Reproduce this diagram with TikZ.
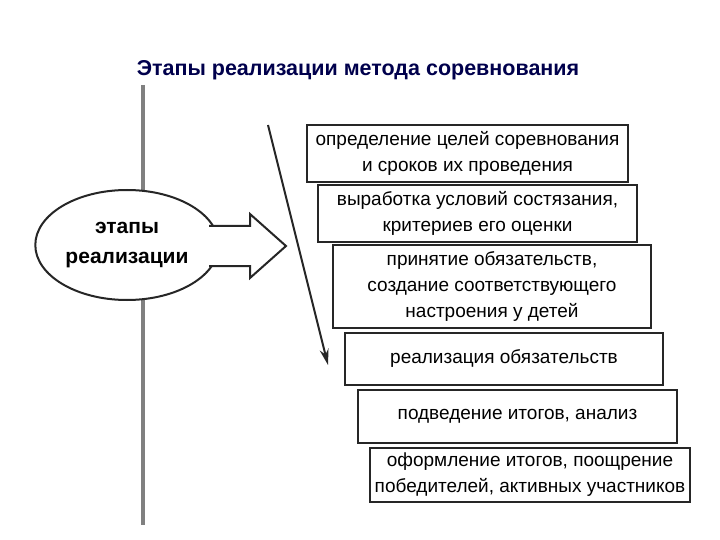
\documentclass[tikz,border=0pt]{standalone}
\usepackage{fontspec}
\setmainfont{Liberation Sans}
\usetikzlibrary{shapes.geometric,arrows.meta}
\begin{document}
\begin{tikzpicture}[x=1pt,y=-1pt,
  stage/.style={draw=black!85,line width=2pt,align=center,font=\fontsize{19}{26}\selectfont,inner sep=1pt},
  ttl/.style={font=\bfseries\fontsize{21.5}{24}\selectfont,text=blue!30!black}]
\useasboundingbox (0,0) rectangle (720,540);
\node[ttl] (t) at (358,70) {Этапы реализации метода соревнования};
\draw[line width=4pt,black!50] (143,85) -- (143,525);
\node[draw=black!85,line width=2pt,fill=white,ellipse,minimum width=165pt,minimum height=110pt,align=center,font=\bfseries\fontsize{21}{30}\selectfont] (e) at (127,245) {этапы\\реализации};
\draw[line width=2pt,black!85,fill=white] (209,226) -- (250,226) -- (250,214) -- (286,246) -- (250,278) -- (250,266) -- (209,266);
\coordinate (a1) at (268,125);
\coordinate (a2) at (328,365);
\draw[line width=2pt,black!85,-{Stealth[length=16pt,width=9pt]}] (a1) -- (a2);
\node[stage,minimum width=321pt,minimum height=57pt] (b1) at (467.5,153.5) {определение целей соревнования\\и сроков их проведения};
\node[stage,minimum width=319pt,minimum height=57pt] (b2) at (477.5,213.5) {выработка условий состязания,\\критериев его оценки};
\node[stage,minimum width=318pt,minimum height=83pt] (b3) at (492,286.5) {принятие обязательств,\\создание соответствующего\\настроения у детей};
\node[stage,minimum width=318pt,minimum height=52pt] (b4) at (504,359) {реализация обязательств};
\node[stage,minimum width=319pt,minimum height=53pt] (b5) at (517.5,416.5) {подведение итогов, анализ};
\node[stage,minimum width=320pt,minimum height=54pt] (b6) at (530,475) {оформление итогов, поощрение\\победителей, активных участников};
\end{tikzpicture}
\end{document}
